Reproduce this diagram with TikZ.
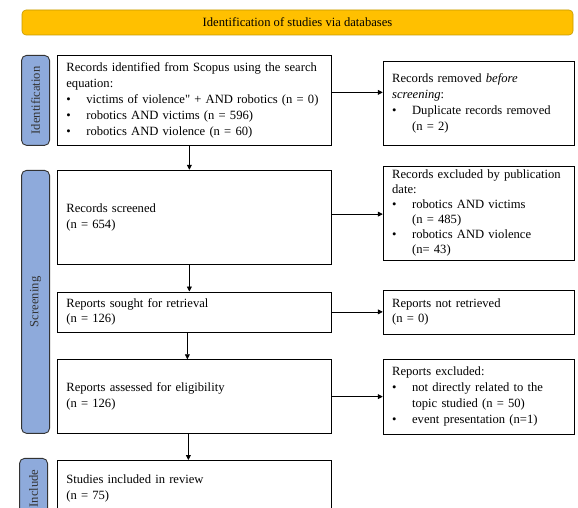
\documentclass[tikz,border=0pt]{standalone}
\usepackage{fontspec}
\setmainfont{Liberation Serif}[Ligatures=TeXOff]
\usetikzlibrary{positioning,arrows.meta,calc}

\definecolor{bannerfill}{HTML}{FFC000}
\definecolor{bannerline}{HTML}{C49A00}
\definecolor{stagefill}{HTML}{8EAADB}
\setlength{\parindent}{0pt}

% bullet line with hanging indent
\newcommand{\bitem}[1]{\par\hangindent=20pt\hangafter=1\noindent\makebox[20pt][l]{\textbullet}#1\par}

\begin{document}
\begin{tikzpicture}[
    x=1pt, y=-1pt,
    font=\fontsize{12.6}{15.8}\selectfont,
    box/.style={draw, line width=0.75pt, align=left, text width=256pt, inner xsep=9pt, inner ysep=2pt},
    rbox/.style={box, text width=173pt},
    stage/.style={draw=black!80, fill=stagefill, rounded corners=5pt, line width=0.9pt, rotate=90,
                  minimum height=28pt, inner sep=0pt, text=black!80},
    banner/.style={draw=bannerline, fill=bannerfill, rounded corners=4pt, line width=0.6pt},
    arrow/.style={-{Triangle[length=5pt,width=5pt]}, line width=0.75pt}
]
\useasboundingbox (0,0) rectangle (578,508);
\clip (0,0) rectangle (578,508);

% Header
\node[banner, minimum width=551pt, minimum height=25pt] (head) at (297.5,22.5) {Identification of studies via databases};

% Main column
\node[box, minimum height=90pt, anchor=north west] (ident) at (57,55) {Records identified from Scopus using the search\newline equation:
    \bitem{victims of violence" + AND robotics (n = 0)}
    \bitem{robotics AND victims (n = 596)}
    \bitem{robotics AND violence (n = 60)}};
\node[box, minimum height=94pt, below=24pt of ident] (screen) {Records screened\newline (n = 654)};
\node[box, minimum height=40pt, below=27pt of screen] (sought) {Reports sought for retrieval\newline (n = 126)};
\node[box, minimum height=74pt, below=27pt of sought] (assess) {Reports assessed for eligibility\newline (n = 126)};
\node[box, minimum height=56pt, below=26pt of assess] (incl) {Studies included in review\newline (n = 75)};

% Exclusions on the right
\node[rbox, minimum height=84pt, right=51pt of ident, yshift=-3pt] (removed) {Records removed \textit{before}\newline \textit{screening}:
    \bitem{Duplicate records removed\newline (n = 2)}};
\node[rbox, minimum height=94pt, right=51pt of screen, yshift=4pt, font=\fontsize{12.6}{15}\selectfont] (excluded) {Records excluded by publication\newline date:
    \bitem{robotics AND victims\newline (n = 485)}
    \bitem{robotics AND violence\newline (n= 43)}};
\node[rbox, minimum height=44pt, right=51pt of sought] (notret) {Reports not retrieved\newline (n = 0)};
\node[rbox, minimum height=75pt, right=51pt of assess] (rexcl) {Reports excluded:
    \bitem{not directly related to the\newline topic studied (n = 50)}
    \bitem{event presentation (n=1)}};

% Stage labels
\node[stage, minimum width=90pt, left=7pt of ident, anchor=south] (idlab) {Identification};
\node[stage, minimum width=263pt, anchor=south] (scrlab) at ($(screen.north west)!0.5!(assess.south west)+(-7,0)$) {Screening};
\node[stage, minimum width=60pt, left=7pt of incl, anchor=south, yshift=2pt] (inlab) {Include};

% Flow
\draw[arrow] ([xshift=-5pt]ident.south) -- ([xshift=-5pt]screen.north);
\draw[arrow] ([xshift=-5pt]screen.south) -- ([xshift=-5pt]sought.north);
\draw[arrow] ([xshift=-7pt]sought.south) -- ([xshift=-7pt]assess.north);
\draw[arrow] ([xshift=-6pt]assess.south) -- ([xshift=-6pt]incl.north);

\draw[arrow] ([yshift=8pt]ident.east) -- ([yshift=8pt]ident.east -| removed.west);
\draw[arrow] ([yshift=3pt]screen.east) -- ([yshift=3pt]screen.east -| excluded.west);
\draw[arrow] (sought) -- (notret);
\draw[arrow] (assess) -- (rexcl);
\end{tikzpicture}
\end{document}
